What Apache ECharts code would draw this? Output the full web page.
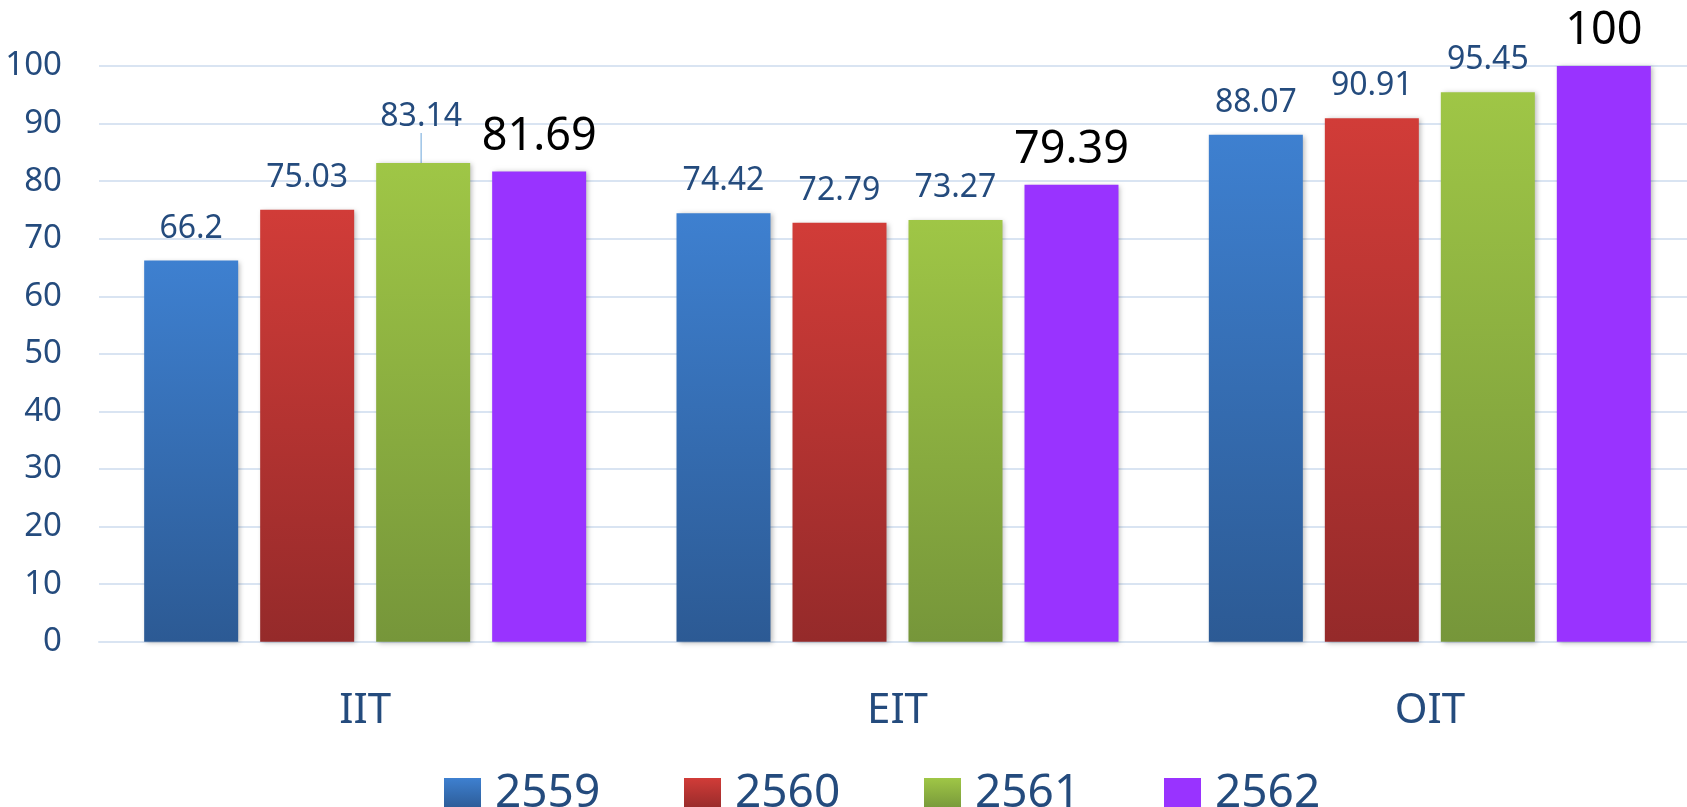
<!DOCTYPE html>
<html>
<head>
<meta charset="utf-8">
<script src="https://cdn.jsdelivr.net/npm/echarts@6/dist/echarts.min.js"></script>
<style>
  html, body { margin: 0; padding: 0; background: #fff; }
  #main { width: 1687px; height: 807px; }
</style>
</head>
<body>
<div id="main"></div>
<script>
var categories = ['IIT', 'EIT', 'OIT'];
var years = ['2559', '2560', '2561', '2562'];
var v2559 = [66.2, 74.42, 88.07];
var v2560 = [75.03, 72.79, 90.91];
var v2561 = [83.14, 73.27, 95.45];
var v2562 = [81.69, 79.39, 100];
var yTicks = [0, 10, 20, 30, 40, 50, 60, 70, 80, 90, 100];

var textBlue = '#244b7d';
var gridColor = '#d9e4f2';

function grad(top, bottom) {
    return new echarts.graphic.LinearGradient(0, 0, 0, 1, [
        {offset: 0, color: top},
        {offset: 1, color: bottom}
    ]);
}

var fills = [
    grad('#3e80d0', '#2c5a94'),
    grad('#d13c38', '#952a2a'),
    grad('#9fc646', '#76963a'),
    '#9933ff'
];

var values = [v2559, v2560, v2561, v2562];

var dom = document.getElementById('main');
var myChart = echarts.init(dom);

var series = years.map(function (y, i) {
    var last = i === 3;
    return {
        name: y,
        type: 'bar',
        barWidth: 94,
        barGap: '23.4%',
        // only the IIT 2561 label is lifted, with a leader line
        data: values[i].map(function (v, k) {
            if (i === 2 && k === 0) {
                return {value: v, labelLine: {show: true}};
            }
            return v;
        }),
        itemStyle: {
            color: fills[i],
            shadowBlur: 5,
            shadowColor: 'rgba(0,0,0,0.28)',
            shadowOffsetX: 2,
            shadowOffsetY: 1
        },
        label: {
            show: true,
            position: 'top',
            distance: last ? 12 : 16,
            fontFamily: 'Noto Sans',
            fontSize: last ? 45 : 32,
            color: last ? '#000' : textBlue
        },
        labelLine: {
            show: false,
            lineStyle: {color: '#9dc3e6', width: 1.5}
        },
        labelLayout: i === 2 ? function (p) {
            if (p.dataIndex === 0) return {dy: -14, dx: -2};
            return {};
        } : undefined
    };
});

option = {
    animation: false,
    textStyle: {fontFamily: 'Noto Sans'},
    grid: {
        left: 99,
        width: 1597,
        top: 66,
        bottom: 165.3,
        outerBoundsMode: 'none'
    },
    legend: {
        data: years,
        left: 439,
        top: 766,
        itemWidth: 37,
        itemHeight: 32,
        itemGap: 79,
        icon: 'rect',
        textStyle: {
            fontSize: 46,
            lineHeight: 46,
            width: 110,
            color: textBlue,
            padding: [0, 0, 0, 9]
        }
    },
    xAxis: {
        type: 'category',
        data: categories,
        axisTick: {show: false},
        axisLine: {lineStyle: {color: gridColor, width: 2}},
        axisLabel: {
            margin: 48,
            fontSize: 42,
            color: textBlue
        }
    },
    yAxis: {
        type: 'value',
        min: yTicks[0],
        max: yTicks[yTicks.length - 1],
        interval: yTicks[1] - yTicks[0],
        axisLine: {show: false},
        axisTick: {show: false},
        splitLine: {lineStyle: {color: gridColor, width: 2}},
        axisLabel: {
            margin: 37,
            fontSize: 33,
            color: textBlue
        }
    },
    series: series
};

if (option && typeof option === 'object') {
    myChart.setOption(option, true);
}
</script>
</body>
</html>
